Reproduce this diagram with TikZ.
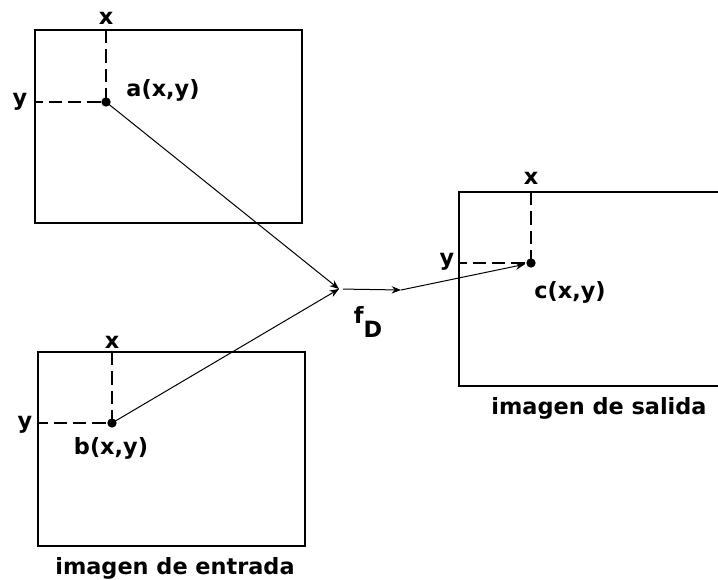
\documentclass[tikz,border=0pt]{standalone}
\usepackage{fontspec}
\setmainfont{DejaVu Sans}
\usetikzlibrary{arrows.meta}
\begin{document}
\begin{tikzpicture}[x=0.75pt,y=-0.75pt,
  frame/.style={line width=1.5pt},
  guide/.style={line width=1.4pt,dash pattern=on 10pt off 4.5pt},
  dotpt/.style={circle,fill=black,inner sep=0pt,minimum size=7pt},
  conn/.style={line width=0.75pt,-{Stealth[length=7pt,width=5.5pt]}},
  lbl/.style={font=\bfseries\fontsize{16.8}{19}\selectfont,inner sep=0pt}]
\useasboundingbox (0,0) rectangle (718,579);
% boxes
\draw[frame] (35,30) rectangle (302,223);
\draw[frame] (38,352) rectangle (305,546);
\draw[frame] (720,192) -- (459,192) -- (459,386) -- (720,386);
% points
\node[dotpt] (a) at (106,102) {};
\node[dotpt] (b) at (112,423) {};
\node[dotpt] (c) at (531,263) {};
\coordinate (at) at (106,30);
\coordinate (al) at (35,102);
\coordinate (bt) at (112,352);
\coordinate (bl) at (38,423);
\coordinate (ct) at (531,192);
\coordinate (cl) at (459,263);
\coordinate (j) at (339,289);
\coordinate (m) at (401,290);
% guides
\draw[guide] (at) -- (a.center) -- (al);
\draw[guide] (bt) -- (b.center) -- (bl);
\draw[guide] (ct) -- (c.center) -- (cl);
% connectors
\draw[conn] (a.center) -- (j);
\draw[conn] (b.center) -- (j);
\draw[conn,shorten <=3pt] (j) -- (m);
\draw[conn,shorten >=1pt] (m) -- (c);
% labels
\node[lbl] (ax) at (106,18) {x};
\node[lbl] (ay) at (20,102) {y};
\node[lbl] (al2) at (163,90) {a(x,y)};
\node[lbl] (bx) at (112,342) {x};
\node[lbl] (by) at (25,425) {y};
\node[lbl] (bl2) at (111,448) {b(x,y)};
\node[lbl] (cx) at (531,178) {x};
\node[lbl] (cy) at (447,262) {y};
\node[lbl] (cl2) at (570,292) {c(x,y)};
\node[lbl] (fd) at (368,322) {f\raisebox{-1.1ex}{D}};
\node[lbl] (in) at (175,568) {imagen de entrada};
\node[lbl] (out) at (599,408) {imagen de salida};
\end{tikzpicture}
\end{document}
